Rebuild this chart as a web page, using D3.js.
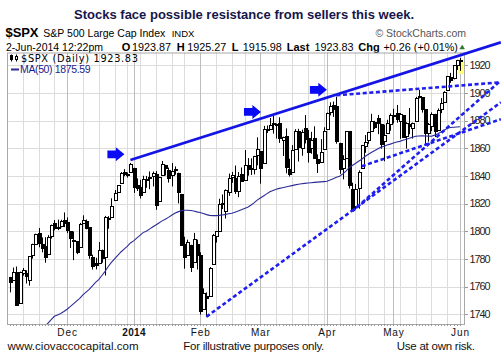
<!DOCTYPE html>
<html><head><meta charset="utf-8">
<script src="https://cdn.jsdelivr.net/npm/d3@7"></script>
<style>body{margin:0;background:#fff}svg{display:block}</style>
</head><body><svg id="c" width="501" height="359"></svg>
<script>
const dates = [
"2013-11-05","2013-11-06","2013-11-07","2013-11-08","2013-11-11","2013-11-12","2013-11-13","2013-11-14","2013-11-15","2013-11-18","2013-11-19","2013-11-20","2013-11-21","2013-11-22","2013-11-25","2013-11-26","2013-11-27","2013-11-29",
"2013-12-02","2013-12-03","2013-12-04","2013-12-05","2013-12-06","2013-12-09","2013-12-10","2013-12-11","2013-12-12","2013-12-13","2013-12-16","2013-12-17","2013-12-18","2013-12-19","2013-12-20","2013-12-23","2013-12-24","2013-12-26","2013-12-27","2013-12-30","2013-12-31",
"2014-01-02","2014-01-03","2014-01-06","2014-01-07","2014-01-08","2014-01-09","2014-01-10","2014-01-13","2014-01-14","2014-01-15","2014-01-16","2014-01-17","2014-01-21","2014-01-22","2014-01-23","2014-01-24","2014-01-27","2014-01-28","2014-01-29","2014-01-30","2014-01-31",
"2014-02-03","2014-02-04","2014-02-05","2014-02-06","2014-02-07","2014-02-10","2014-02-11","2014-02-12","2014-02-13","2014-02-14","2014-02-18","2014-02-19","2014-02-20","2014-02-21","2014-02-24","2014-02-25","2014-02-26","2014-02-27","2014-02-28",
"2014-03-03","2014-03-04","2014-03-05","2014-03-06","2014-03-07","2014-03-10","2014-03-11","2014-03-12","2014-03-13","2014-03-14","2014-03-17","2014-03-18","2014-03-19","2014-03-20","2014-03-21","2014-03-24","2014-03-25","2014-03-26","2014-03-27","2014-03-28","2014-03-31",
"2014-04-01","2014-04-02","2014-04-03","2014-04-04","2014-04-07","2014-04-08","2014-04-09","2014-04-10","2014-04-11","2014-04-14","2014-04-15","2014-04-16","2014-04-17","2014-04-21","2014-04-22","2014-04-23","2014-04-24","2014-04-25","2014-04-28","2014-04-29","2014-04-30",
"2014-05-01","2014-05-02","2014-05-05","2014-05-06","2014-05-07","2014-05-08","2014-05-09","2014-05-12","2014-05-13","2014-05-14","2014-05-15","2014-05-16","2014-05-19","2014-05-20","2014-05-21","2014-05-22","2014-05-23","2014-05-27","2014-05-28","2014-05-29","2014-05-30",
"2014-06-02"];

const opens = [
1766.7,1765.0,1770.7,1748.4,1769.96,1769.5,1764.4,1782.8,1790.7,1798.8,1790.8,1789.6,1783.5,1797.0,1806.3,1802.9,1803.5,1808.0,
1806.6,1800.1,1793.6,1792.8,1788.4,1806.2,1807.6,1802.8,1781.7,1777.0,1777.5,1786.5,1781.5,1809.0,1810.4,1822.9,1828.0,1835.0,1843.0,1841.5,1842.6,
1845.9,1833.2,1832.3,1828.7,1837.9,1839.0,1840.1,1841.3,1821.4,1840.5,1848.0,1844.2,1841.1,1844.7,1842.3,1827.0,1791.0,1783.0,1790.2,1777.2,1790.9,
1782.7,1743.8,1753.4,1753.0,1776.0,1796.2,1800.5,1820.1,1814.8,1828.5,1839.0,1838.2,1829.2,1841.1,1836.8,1847.7,1845.8,1844.9,1855.1,
1857.7,1849.2,1874.1,1874.2,1878.5,1877.9,1878.3,1866.2,1869.1,1845.1,1842.8,1858.9,1872.3,1860.1,1874.5,1867.7,1859.5,1867.1,1852.1,1850.1,1859.2,
1874.0,1886.6,1891.4,1890.3,1863.9,1845.5,1852.6,1872.3,1830.7,1818.2,1831.5,1846.0,1861.7,1865.8,1872.6,1879.3,1882.0,1877.7,1865.0,1870.8,1877.1,
1884.4,1885.3,1879.5,1883.7,1868.5,1877.4,1875.0,1880.0,1896.8,1897.1,1888.2,1871.2,1876.7,1884.9,1873.3,1888.2,1893.3,1902.0,1911.8,1910.6,1920.3,
1923.87];

const highs = [
1767.0,1773.7,1774.5,1770.8,1773.4,1771.8,1782.0,1791.0,1798.2,1802.3,1795.5,1795.7,1797.2,1804.8,1808.1,1808.4,1808.3,1813.6,
1810.0,1800.1,1799.8,1792.8,1806.0,1811.5,1808.5,1803.0,1783.0,1780.8,1792.2,1786.8,1811.1,1810.9,1823.8,1829.8,1833.3,1842.8,1844.9,1842.5,1849.4,
1845.9,1838.2,1837.2,1840.1,1840.0,1843.2,1843.2,1843.5,1839.3,1850.8,1848.0,1846.0,1849.3,1846.9,1842.3,1827.0,1796.0,1793.9,1790.2,1798.8,1793.9,
1784.8,1758.7,1755.8,1774.1,1798.0,1799.9,1823.5,1826.6,1830.3,1841.7,1842.9,1847.5,1842.8,1846.1,1858.7,1852.9,1852.7,1854.5,1867.9,
1857.7,1876.2,1876.5,1881.9,1883.6,1877.9,1882.4,1868.4,1874.4,1852.4,1862.3,1873.8,1874.1,1873.5,1884.0,1873.3,1871.9,1875.9,1855.6,1866.6,1875.2,
1885.8,1893.2,1893.8,1897.3,1864.0,1855.0,1872.4,1872.5,1835.1,1834.2,1844.0,1862.4,1869.6,1871.9,1884.9,1879.8,1884.1,1877.7,1877.0,1880.6,1885.2,
1888.6,1891.3,1885.5,1883.7,1878.8,1889.1,1878.6,1897.1,1902.2,1897.1,1888.2,1878.3,1886.0,1884.9,1888.8,1896.3,1901.3,1912.3,1914.5,1920.1,1924.0,
1925.27];

const lows = [
1755.8,1764.4,1746.2,1747.6,1767.9,1762.2,1760.6,1780.2,1790.7,1788.4,1784.7,1777.2,1783.5,1794.7,1800.6,1800.8,1802.8,1803.0,
1798.6,1787.9,1779.1,1783.4,1788.4,1806.2,1801.4,1780.1,1772.3,1772.4,1777.5,1777.2,1768.0,1801.8,1810.3,1822.9,1828.0,1835.0,1839.8,1838.8,1842.4,
1827.7,1829.1,1823.7,1828.7,1831.4,1830.4,1832.4,1815.5,1821.4,1840.5,1840.3,1835.2,1832.4,1840.9,1820.1,1790.2,1772.9,1783.0,1770.5,1777.2,1772.3,
1739.7,1743.8,1737.9,1753.0,1776.0,1791.8,1800.4,1816.0,1809.2,1825.6,1835.0,1827.0,1824.6,1835.6,1836.8,1840.2,1840.7,1841.1,1847.7,
1834.4,1849.2,1871.1,1874.2,1870.6,1867.0,1863.9,1854.4,1841.9,1839.6,1842.8,1858.9,1850.4,1854.6,1863.5,1849.7,1856.0,1852.5,1842.1,1850.1,1859.2,
1874.0,1883.8,1882.7,1863.3,1841.5,1837.5,1852.4,1830.9,1814.4,1815.8,1816.3,1846.0,1856.7,1863.2,1872.6,1873.9,1870.2,1859.7,1850.6,1870.8,1872.7,
1878.0,1878.5,1866.8,1867.7,1859.8,1870.1,1867.0,1880.0,1896.1,1885.8,1862.4,1864.8,1872.4,1868.1,1873.3,1885.4,1893.3,1902.0,1907.3,1909.8,1916.6,
1915.98];

const closes = [
1762.97,1770.49,1747.15,1770.61,1771.89,1767.69,1782.00,1790.62,1798.18,1791.53,1787.87,1781.37,1795.85,1804.76,1802.48,1802.75,1807.23,1805.81,
1800.90,1795.15,1792.81,1785.03,1805.09,1808.37,1802.62,1782.22,1775.50,1775.32,1786.54,1781.00,1810.65,1809.60,1818.32,1827.99,1833.32,1842.02,1841.40,1841.07,1848.36,
1831.98,1831.37,1826.77,1837.88,1837.49,1838.13,1842.37,1819.20,1838.88,1848.38,1845.89,1838.70,1843.80,1844.86,1828.46,1790.29,1781.56,1792.50,1774.20,1794.19,1782.59,
1741.89,1755.20,1751.64,1773.43,1797.02,1799.84,1819.75,1819.26,1829.83,1838.63,1840.76,1828.75,1839.78,1836.25,1847.61,1845.12,1845.16,1854.29,1859.45,
1845.73,1873.91,1873.81,1877.03,1878.04,1877.17,1867.63,1868.20,1846.34,1841.13,1858.83,1872.25,1860.77,1872.01,1866.52,1857.44,1865.62,1852.56,1849.04,1857.62,1872.34,
1885.52,1890.90,1888.77,1865.09,1845.04,1851.96,1872.18,1833.08,1815.69,1830.61,1842.98,1862.31,1864.85,1871.89,1879.55,1875.39,1878.61,1863.40,1869.43,1878.33,1883.95,
1883.68,1881.14,1884.66,1867.72,1878.21,1875.63,1878.48,1896.65,1897.45,1888.53,1870.85,1877.86,1885.08,1872.83,1888.03,1892.49,1900.53,1911.91,1909.78,1920.03,1923.57,
1923.83];

const ma50 = [
1712,1714,1716,1718,1720,1722,1724,1726,1728,1730,1731,1731,1733.5,1736,1738.5,1739.5,1740.5,1742,
1743.6,1745.5,1747.5,1749.5,1751.5,1754,1756,1758,1760.5,1763,1765,1768,1771,1774.5,1777.5,1780,1782.5,1785,1787,1789,1791.5,
1793,1795,1797,1799,1800,1801.5,1803,1804.5,1806,1807.5,1808.6,1810,1811.5,1813,1814,1814.8,1815.2,1815.2,1815,1814.6,1814,
1813.5,1812.8,1812,1811.5,1811.3,1811.3,1811.5,1811.8,1812.2,1812.6,1813,1813.8,1814.6,1815.5,1816.5,1817.3,1818.8,1820.5,1822.5,
1824,1825.5,1827,1828.5,1829.5,1830.3,1831,1831.5,1832,1832.5,1833,1833.5,1834,1834.3,1834.6,1834.9,1835.1,1835.3,1835.5,1835.7,1835.9,
1836.1,1837,1838,1839,1839.7,1841.5,1843.5,1846,1847.5,1849,1850.6,1852,1854,1855.5,1857,1858.2,1859.5,1860.7,1861.5,1862.3,1863,
1863.8,1864.5,1865,1865.8,1866.5,1867.2,1868,1868.7,1868.9,1869,1868.9,1868.8,1868.7,1869.5,1870.5,1871.7,1873,1874.5,1875,1875.2,1875.4,
1875.59];

const yTicks = [1740,1760,1780,1800,1820,1840,1860,1880,1900,1920];
const monthNames = ["Jan","Feb","Mar","Apr","May","Jun","Jul","Aug","Sep","Oct","Nov","Dec"];

// annotation lines: [dayIndexStart, valueStart, dayIndexEnd, valueEnd]
const solidLines = [[38, 1851.5, 154.9, 1936.6]];
const dashedLines = [
  [103, 1898.3, 154.9, 1907.7],
  [62, 1738.2, 154.9, 1893.2],
  [108, 1814.4, 154.9, 1909.0],
  [111, 1847.0, 154.9, 1881.0]
];
// arrow tips: [dayIndex, value]
const arrowTips = [[36.1, 1855.6], [79.2, 1886.3], [100.0, 1902.3]];

const headerQuote = {date:"2-Jun-2014 12:22pm", O:"1923.87", H:"1925.27", L:"1915.98", Last:"1923.83", Chg:"+0.26 (+0.01%)"};

const svg = d3.select("#c");
const plot = {l:7, r:465, t:52.5, b:324};
const n = dates.length;
const x = d3.scaleLinear().domain([0, n - 1]).range([10, 460]);
const y = d3.scaleLinear().domain([1740, 1920]).range([314.2, 65.3]);
const parse = d3.timeParse("%Y-%m-%d");
const dd = dates.map(parse);

svg.append("rect").attr("width",501).attr("height",359).attr("fill","#fff");

// Title
svg.append("text").attr("x",244).attr("y",19).attr("text-anchor","middle")
  .attr("font-family","Liberation Sans, Arial, sans-serif").attr("font-weight","bold").attr("font-size",13.5)
  .attr("fill","#16164a").attr("textLength",340).attr("lengthAdjust","spacingAndGlyphs")
  .text("Stocks face possible resistance from sellers this week.");

const hf = "Liberation Sans, Arial, sans-serif";
svg.append("text").attr("x",5.5).attr("y",37).attr("font-family",hf).attr("font-weight","bold").attr("font-size",13)
  .attr("fill","#000").attr("textLength",33).text("$SPX");
svg.append("text").attr("x",43.3).attr("y",37).attr("font-family",hf).attr("font-size",10.5)
  .attr("fill","#000").attr("textLength",122).text("S&P 500 Large Cap Index");
svg.append("text").attr("x",171.7).attr("y",37).attr("font-family",hf).attr("font-size",9.5)
  .attr("fill","#000").attr("textLength",22.6).text("INDX");
svg.append("text").attr("x",466).attr("y",37).attr("text-anchor","end").attr("font-family",hf).attr("font-size",10.5)
  .attr("fill","#555").text("\u00A9 StockCharts.com");

// quote line
const ql = svg.append("g").attr("font-family",hf).attr("fill","#000");
ql.append("text").attr("x",6).attr("y",50.5).attr("font-size",10.5).attr("textLength",97).text(headerQuote.date);
[["O",121.7,132,headerQuote.O],["H",176.7,187.3,headerQuote.H],["L",231.7,242.8,headerQuote.L],["Last",286.7,314.5,headerQuote.Last],["Chg",358.3,383.5,headerQuote.Chg]]
.forEach(([lab,lx,vx,val])=>{
  ql.append("text").attr("x",lx).attr("y",50.5).attr("font-size",11).attr("font-weight","bold").text(lab);
  ql.append("text").attr("x",vx).attr("y",50.5).attr("font-size",10.8).text(val);
});
svg.append("path").attr("d","M459.3,49.3L462.2,44.8L465,49.3Z").attr("fill","#2f7a32");

// clip
svg.append("defs").append("clipPath").attr("id","pc").append("rect")
  .attr("x",plot.l).attr("y",plot.t).attr("width",plot.r-plot.l).attr("height",plot.b-plot.t);

// grid
const grid = svg.append("g");
yTicks.forEach(v=>{
  const yy = Math.round(y(v))+0.5;
  grid.append("line").attr("x1",plot.l).attr("x2",plot.r).attr("y1",yy).attr("y2",yy).attr("stroke","#dcdcdc").attr("stroke-width",1);
});
const monthStarts = [], weekStarts = [];
dd.forEach((d,i)=>{
  if (i===0) return;
  const p = dd[i-1];
  if (d.getMonth()!==p.getMonth()) monthStarts.push(i);
  else if (d.getDay() < p.getDay() || (d - p) > 3*86400000) weekStarts.push(i);
});
weekStarts.forEach(i=>{
  const xx = Math.round(x(i))+0.5;
  grid.append("line").attr("x1",xx).attr("x2",xx).attr("y1",plot.t).attr("y2",plot.b).attr("stroke","#dcdcdc");
});
monthStarts.forEach(i=>{
  const xx = Math.round(x(i))+0.5;
  grid.append("line").attr("x1",xx).attr("x2",xx).attr("y1",plot.t).attr("y2",plot.b).attr("stroke","#bdbdbd");
});

// plot border
svg.append("rect").attr("x",plot.l+0.5).attr("y",plot.t+0.5).attr("width",plot.r-plot.l-1).attr("height",plot.b-plot.t)
  .attr("fill","none").attr("stroke","#a8a8a8");

// day ticks along the bottom
const ticks = svg.append("g");
d3.range(n).forEach(i=>{
  const xx = Math.round(x(i))+0.5;
  ticks.append("line").attr("x1",xx).attr("x2",xx).attr("y1",plot.b).attr("y2",plot.b+2).attr("stroke","#999");
});
// y axis labels
yTicks.forEach(v=>{
  const yy = Math.round(y(v))+0.5;
  ticks.append("line").attr("x1",plot.r).attr("x2",plot.r+3).attr("y1",yy).attr("y2",yy).attr("stroke","#999");
  svg.append("text").attr("x",469.5).attr("y",y(v)+3.8).attr("font-family",hf).attr("font-size",10.8)
    .attr("fill","#222").attr("textLength",21).text(v);
});
// month labels
monthStarts.forEach(i=>{
  const d = dd[i];
  const isYear = d.getMonth()===0;
  svg.append("text").attr("x",x(i)+0.5).attr("y",336).attr("text-anchor","middle")
    .attr("font-family",hf).attr("font-size",10).attr("letter-spacing",isYear?0.3:0.9)
    .attr("font-weight",isYear?"bold":"normal").attr("fill","#111")
    .text(isYear ? d.getFullYear() : monthNames[d.getMonth()]);
});

// candles
const cg = svg.append("g").attr("clip-path","url(#pc)");
// yellow highlight on the last bar
const last = n-1;
cg.append("rect").attr("x",Math.round(x(last))-1.5).attr("y",y(highs[last])+1.5).attr("width",5)
  .attr("height",y(lows[last])-y(highs[last])+1.5).attr("fill","#ffff70");
d3.range(n).forEach(i=>{
  const cx = Math.round(x(i));
  const o=opens[i], c=closes[i];
  cg.append("line").attr("x1",cx+0.5).attr("x2",cx+0.5).attr("y1",y(highs[i])).attr("y2",y(lows[i]))
    .attr("stroke","#000").attr("stroke-width",1);
  const top = y(Math.max(o,c)), bot = y(Math.min(o,c));
  cg.append("rect").attr("x",cx-0.5).attr("y",Math.round(top)+0.5).attr("width",3)
    .attr("height",Math.max(1,Math.round(bot-top)))
    .attr("fill", c>=o ? "#fff" : "#000").attr("stroke","#000").attr("stroke-width",1);
});

// MA(50)
cg.append("path").datum(ma50).attr("fill","none").attr("stroke","#2b2b96").attr("stroke-width",1.1)
  .attr("d", d3.line().x((v,i)=>x(i)).y(v=>y(v)));

// legend
const lg = svg.append("g");
lg.append("line").attr("x1",11.5).attr("x2",11.5).attr("y1",54.5).attr("y2",61.5).attr("stroke","#000");
lg.append("rect").attr("x",10.5).attr("y",55.5).attr("width",2).attr("height",4).attr("fill","#000").attr("stroke","#000");
lg.append("line").attr("x1",16.5).attr("x2",16.5).attr("y1",54.5).attr("y2",61.5).attr("stroke","#000");
lg.append("rect").attr("x",15.5).attr("y",56.5).attr("width",2).attr("height",3).attr("fill","#fff").attr("stroke","#000");
lg.append("text").attr("x",21).attr("y",61.5).attr("font-family","DejaVu Sans, Verdana, sans-serif").attr("font-size",9.8)
  .attr("fill","#000").attr("textLength",117).text("$SPX (Daily) " + closes[last].toFixed(2));
lg.append("line").attr("x1",11).attr("x2",19).attr("y1",69.5).attr("y2",69.5).attr("stroke","#2b2b96").attr("stroke-width",2);
lg.append("text").attr("x",20).attr("y",73).attr("font-family",hf).attr("font-size",10.5)
  .attr("fill","#1c1c8c").attr("textLength",70.5).text("MA(50) " + ma50[last].toFixed(2));

// trend lines
const ag = svg.append("g");
solidLines.forEach(([i0,v0,i1,v1])=>{
  ag.append("line").attr("x1",x(i0)).attr("y1",y(v0)).attr("x2",x(i1)).attr("y2",y(v1))
    .attr("stroke","#1414e6").attr("stroke-width",2.8);
});
dashedLines.forEach(([i0,v0,i1,v1])=>{
  ag.append("line").attr("x1",x(i0)).attr("y1",y(v0)).attr("x2",x(i1)).attr("y2",y(v1))
    .attr("stroke","#1e1ef0").attr("stroke-width",2.6).attr("stroke-dasharray","4,2.6");
});
arrowTips.forEach(([i,v])=>{
  const tx = x(i), ty = y(v);
  const pts = [[-17,-3.9],[-8.6,-3.9],[-8.6,-7],[0,0],[-8.6,7],[-8.6,3.9],[-17,3.9]];
  ag.append("polygon").attr("points", pts.map(p=>[tx+p[0],ty+p[1]].join(",")).join(" ")).attr("fill","#0a0af5");
});

// footer
svg.append("text").attr("x",7.5).attr("y",349.5).attr("font-family",hf).attr("font-size",11.5).attr("fill","#111")
  .attr("textLength",131).text("www.ciovaccocapital.com");
svg.append("text").attr("x",183.3).attr("y",349.5).attr("font-family",hf).attr("font-size",11.5).attr("fill","#111")
  .attr("textLength",141).text("For illustrative purposes only.");
svg.append("text").attr("x",396.7).attr("y",349.5).attr("font-family",hf).attr("font-size",11.5).attr("fill","#111")
  .attr("textLength",78.3).text("Use at own risk.");
</script>
</body></html>
